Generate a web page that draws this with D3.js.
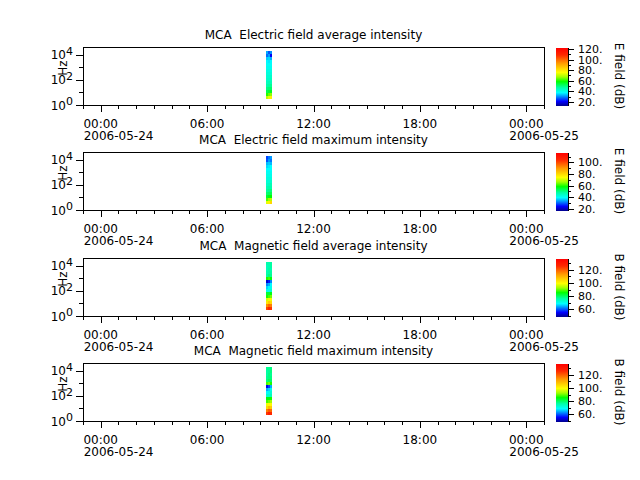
<!DOCTYPE html>
<html>
<head>
<meta charset="utf-8">
<script src="https://cdn.jsdelivr.net/npm/d3@7"></script>
<style>
body{margin:0;background:#fff}
svg{display:block;font-family:"DejaVu Sans",sans-serif}
</style>
</head>
<body>
<div id="chartDiv"></div>
<script>
//---channels (Hz) + sample start times---
var Freqs=[4.1,7.1,12.2,21,36,62,106,183,314,540,927,1590,2740,4700,8070,13900]
var SampleTimes=["2006-05-24T09:20:00Z","2006-05-24T09:27:00Z","2006-05-24T09:34:00Z"]
var SampleMinutes=7
var TimeDomain=["2006-05-23T23:00:00Z","2006-05-25T01:00:00Z"]
var FreqDomain=[1,40000]
var FreqMajor=[1,100,10000]
var FreqMinor=[10,1000]

//---panel texts---
var Titles=["MCA  Electric field average intensity","MCA  Electric field maximum intensity","MCA  Magnetic field average intensity","MCA  Magnetic field maximum intensity"]
var CbarLabels=["E field (dB)","E field (dB)","B field (dB)","B field (dB)"]
var CbarRanges=[[14,124],[18,118],[50,138],[50,138]]
var CbarTicks=[[20,40,60,80,100,120],[20,40,60,80,100],[60,80,100,120],[60,80,100,120]]

//---dB values, one column per sample, low freq -> high freq---
var EAvg=[
 [72,62,55,51,48,46,45,44,43,42,41,40,39,36,30,34],
 [76,66,57,52,49,47,45,44,43,42,41,40,38,37,33,28],
 [80,68,58,53,50,47,46,45,43,42,41,40,39,34,22,32]]
var EMax=[
 [74,64,57,53,50,48,46,45,44,43,42,41,39,37,31,30],
 [78,68,59,54,51,49,47,45,44,43,42,41,40,38,35,33],
 [82,70,60,55,52,49,48,46,44,43,42,41,41,37,33,35]]
var BAvg=[
 [124,116,104,98,88,84,72,68,64,54,88,78,77,76,76,77],
 [128,120,108,100,90,84,72,70,66,58,90,80,78,78,77,77],
 [126,118,106,100,92,86,74,72,70,64,86,79,78,77,78,78]]
var BMax=[
 [126,118,106,100,90,86,74,70,66,56,90,80,79,78,78,79],
 [130,122,110,102,92,86,74,72,68,60,92,82,80,80,79,79],
 [128,120,108,102,94,88,76,74,72,66,88,81,80,79,80,80]]
var PanelData=[EAvg,EMax,BAvg,BMax]

//---rainbow table---
var CmapPos=[0,0.08,0.23,0.32,0.42,0.5,0.58,0.74,0.88,1]
var CmapCol=["#00008c","#0000ff","#00ffff","#00ffa0","#00ff00","#a0ff00","#ffff00","#ff9800","#ff2800","#ff0000"]

var Width=640
var Height=480
var PlotL=83
var PlotR=544
var PlotTop=47
var PlotH=58
var PanelStep=105.3
var CbarX=556
var CbarW=12

var parseT=d3.utcParse("%Y-%m-%dT%H:%M:%SZ")
var fmtHM=d3.utcFormat("%H:%M")
var fmtDay=d3.utcFormat("%Y-%m-%d")

var ChartSVG=d3.select("#chartDiv").append("svg")
 .attr("width",Width).attr("height",Height)
 .attr("viewBox","0 0 "+Width+" "+Height)

var Defs=ChartSVG.append("defs")
var Grad=Defs.append("linearGradient")
 .attr("id","cmapGrad")
 .attr("x1","0").attr("y1","1").attr("x2","0").attr("y2","0")
Grad.selectAll("stop").data(CmapPos).join("stop")
 .attr("offset",function(d){return d})
 .attr("stop-color",function(d,i){return CmapCol[i]})

var Cmap=d3.scaleLinear().domain(CmapPos).range(CmapCol).clamp(true)

var X=d3.scaleUtc().domain(TimeDomain.map(parseT)).range([PlotL,PlotR])

//---freq channel edges (geometric midpoints)---
var FreqEdges=[]
FreqEdges.push(Freqs[0]/Math.sqrt(Freqs[1]/Freqs[0]))
for(var k=1;k<Freqs.length;k++)
 FreqEdges.push(Math.sqrt(Freqs[k-1]*Freqs[k]))
FreqEdges.push(Freqs[Freqs.length-1]*Math.sqrt(Freqs[Freqs.length-1]/Freqs[Freqs.length-2]))

for(var p=0;p<4;p++)
 drawPanel(p)

function drawPanel(p)
{
 var top=Math.round(PlotTop+p*PanelStep)
 var bot=top+PlotH
 var Y=d3.scaleLog().domain(FreqDomain).range([bot,top])
 var cRange=CbarRanges[p]
 var toFrac=d3.scaleLinear().domain(cRange).range([0,1])
 var G=ChartSVG.append("g").attr("id","panel"+p)

 //---spectrogram cells---
 var cells=[]
 PanelData[p].forEach(function(col,ti){
  var t0=parseT(SampleTimes[ti])
  var t1=d3.utcMinute.offset(t0,SampleMinutes)
  col.forEach(function(v,fi){
   cells.push({t0:t0,t1:t1,f0:FreqEdges[fi],f1:FreqEdges[fi+1],v:v})
  })
 })
 G.append("g").attr("shape-rendering","crispEdges")
 .selectAll("rect").data(cells).join("rect")
 .attr("x",function(d){return X(d.t0)})
 .attr("width",function(d){return X(d.t1)-X(d.t0)})
 .attr("y",function(d){return Y(d.f1)})
 .attr("height",function(d){return Y(d.f0)-Y(d.f1)})
 .attr("fill",function(d){return Cmap(toFrac(d.v))})

 //---frame---
 G.append("rect")
 .attr("x",PlotL+.5).attr("y",top+.5)
 .attr("width",PlotR-PlotL).attr("height",PlotH)
 .attr("fill","none").attr("stroke","black").attr("stroke-width",1)

 //---x ticks---
 var minor=X.ticks(d3.utcHour.every(1))
 var major=X.ticks(d3.utcHour.every(6))
 G.append("g").selectAll("line").data(minor).join("line")
 .attr("x1",function(d){return Math.round(X(d))+.5})
 .attr("x2",function(d){return Math.round(X(d))+.5})
 .attr("y1",bot+.5)
 .attr("y2",function(d){return major.some(function(m){return +m==+d})?bot+7:bot+4})
 .attr("stroke","black")

 var xl=G.append("g").attr("font-size","12px").attr("fill","black")
 xl.selectAll("text.hm").data(major).join("text").attr("class","hm")
 .attr("x",function(d){return X(d)})
 .attr("y",bot+23)
 .attr("text-anchor","middle")
 .text(function(d){return fmtHM(d)})
 xl.selectAll("text.day").data(major.filter(function(d){return d.getUTCHours()==0})).join("text").attr("class","day")
 .attr("x",function(d){return X(d)-17})
 .attr("y",bot+35)
 .text(function(d){return fmtDay(d)})

 //---y ticks---
 G.append("g").selectAll("line").data(FreqMajor.concat(FreqMinor)).join("line")
 .attr("x1",function(d){return FreqMajor.indexOf(d)>=0?PlotL-7:PlotL-4})
 .attr("x2",PlotL+.5)
 .attr("y1",function(d){return Math.round(Y(d))+.5})
 .attr("y2",function(d){return Math.round(Y(d))+.5})
 .attr("stroke","black")
 var yl=G.append("g").selectAll("text").data(FreqMajor).join("text")
 .attr("x",PlotL-10)
 .attr("y",function(d){return Y(d)+4.5})
 .attr("text-anchor","end")
 .attr("font-size","12px")
 yl.append("tspan").text("10")
 yl.append("tspan").attr("font-size","11px").attr("dy",-4.5)
 .text(function(d){return Math.round(Math.log10(d))})

 //---axis name sits between the 10^4 and 10^2 labels---
 G.append("text")
 .attr("transform","translate(67,"+(Y(1000)+1)+") rotate(-90)")
 .attr("text-anchor","middle").attr("font-size","12px")
 .text("Hz")

 //---title---
 G.append("text")
 .attr("x",(PlotL+PlotR)/2).attr("y",top-8)
 .attr("text-anchor","middle").attr("font-size","12px")
 .style("white-space","pre")
 .text(Titles[p])

 //---colorbar---
 var C=d3.scaleLinear().domain(cRange).range([bot,top])
 G.append("rect")
 .attr("x",CbarX).attr("y",top+1).attr("width",CbarW).attr("height",PlotH)
 .attr("fill","url(#cmapGrad)")
 var cMinor=d3.range(Math.ceil(cRange[0]/10)*10,cRange[1]+0.001,10)
 G.append("g").selectAll("line").data(cMinor).join("line")
 .attr("x1",CbarX+CbarW)
 .attr("x2",function(d){return CbarTicks[p].indexOf(d)>=0?CbarX+CbarW+6:CbarX+CbarW+3})
 .attr("y1",function(d){return Math.round(C(d))+.5})
 .attr("y2",function(d){return Math.round(C(d))+.5})
 .attr("stroke","black")
 G.append("line")
 .attr("x1",CbarX+CbarW+.5).attr("x2",CbarX+CbarW+.5)
 .attr("y1",top+1).attr("y2",bot+1).attr("stroke","black")
 G.append("g").selectAll("text").data(CbarTicks[p]).join("text")
 .attr("x",CbarX+CbarW+10)
 .attr("y",function(d){return C(d)+4})
 .attr("font-size","11px")
 .text(function(d){return d+"."})

 G.append("text")
 .attr("transform","translate(615,"+(top+PlotH/2)+") rotate(90)")
 .attr("text-anchor","middle").attr("font-size","12px")
 .text(CbarLabels[p])
}
</script>
</body>
</html>
